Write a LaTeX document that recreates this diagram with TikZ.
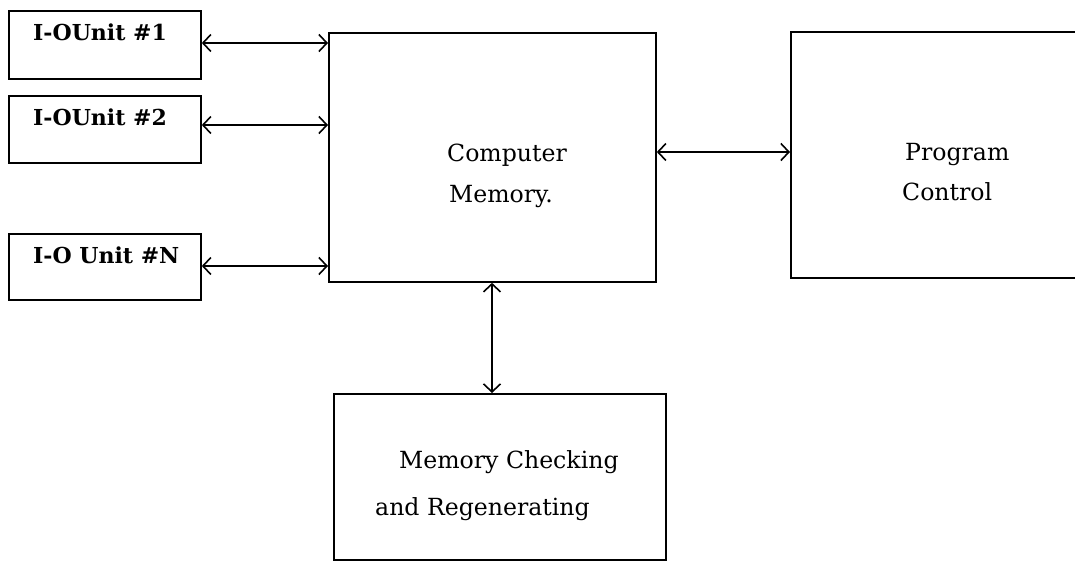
\documentclass[tikz,border=0pt]{standalone}
\usepackage{fontspec}
\setmainfont{DejaVu Serif}
\usetikzlibrary{arrows.meta}
\begin{document}
\begin{tikzpicture}[x=1pt,y=-1pt,
  box/.style={draw,line width=1.8pt,inner sep=0pt,anchor=north west},
  lbl/.style={inner sep=0pt,anchor=base west,font=\fontsize{23.6}{26}\selectfont},
  iolbl/.style={lbl,font=\fontsize{22}{24}\selectfont\bfseries},
  link/.style={line width=1.8pt,{Straight Barb[length=8pt,width=17pt,line width=1.6pt]}-{Straight Barb[length=8pt,width=17pt,line width=1.6pt]}}]
\useasboundingbox (0,0) rectangle (1075,562);
\clip (0,0) rectangle (1075,562);
% boxes
\node[box,minimum width=192pt,minimum height=68pt] (io1) at (8,10) {};
\node[box,minimum width=192pt,minimum height=67pt] (io2) at (8,95) {};
\node[box,minimum width=192pt,minimum height=66pt] (ion) at (8,233) {};
\node[box,minimum width=327pt,minimum height=249pt] (mem) at (328,32) {};
\node[box,minimum width=340pt,minimum height=246pt] (pc) at (790,31) {};
\node[box,minimum width=332pt,minimum height=166pt] (chk) at (333,393) {};
% labels
\node[iolbl] (t1) at (33,40) {I-OUnit \#1};
\node[iolbl] (t2) at (33,125) {I-OUnit \#2};
\node[iolbl] (tn) at (33,263) {I-O Unit \#N};
\node[lbl] (c1) at (447,161) {Computer};
\node[lbl] (c2) at (449,202) {Memory.};
\node[lbl] (p1) at (905,160) {Program};
\node[lbl] (p2) at (902,200) {Control};
\node[lbl] (m1) at (399,468) {Memory Checking};
\node[lbl] (m2) at (375,515) {and Regenerating};
% connectors
\coordinate (a1) at (200,43);
\coordinate (a2) at (200,125);
\coordinate (an) at (200,266);
\draw[link] (io1.east |- a1) -- (mem.west |- a1);
\draw[link] (io2.east |- a2) -- (mem.west |- a2);
\draw[link] (ion.east |- an) -- (mem.west |- an);
\coordinate (h) at (0,152);
\draw[link] (mem.east |- h) -- (pc.west |- h);
\coordinate (v) at (492,0);
\draw[link] (mem.south -| v) -- (chk.north -| v);
\end{tikzpicture}
\end{document}
